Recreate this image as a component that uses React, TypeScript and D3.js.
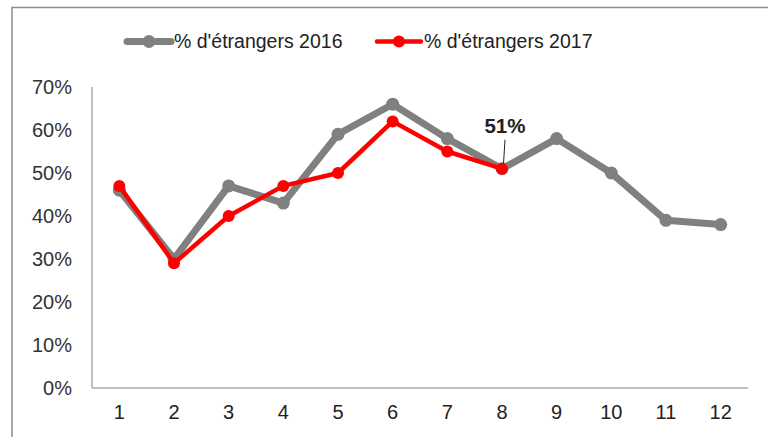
import React from 'react';
import * as d3 from 'd3';

const categories = ['1', '2', '3', '4', '5', '6', '7', '8', '9', '10', '11', '12'];
const values2016 = [46, 30, 47, 43, 59, 66, 58, 51, 58, 50, 39, 38];
const values2017 = [47, 29, 40, 47, 50, 62, 55, 51];
const yTicks = [0, 10, 20, 30, 40, 50, 60, 70];
const seriesNames = ["% d'étrangers 2016", "% d'étrangers 2017"];

const W = 768;
const H = 437;
const font = '"Liberation Sans", Arial, sans-serif';

const App = () => {
  const x = d3.scaleBand().domain(categories).range([92, 748]);
  const y = d3.scaleLinear().domain([0, 70]).range([388, 87]);
  const cx = (i: number) => (x(categories[i]) as number) + x.bandwidth() / 2;

  const line = d3.line<number>()
    .x((d, i) => cx(i))
    .y(d => y(d));

  const series = [
    { name: seriesNames[0], values: values2016, color: '#808080', width: 7, r: 6.5 },
    { name: seriesNames[1], values: values2017, color: '#ff0000', width: 4.5, r: 6 },
  ];

  const labelIdx = 7;
  const lx = cx(labelIdx);
  const ly = y(values2017[labelIdx]);

  return (
    <svg width={W} height={H} style={{ position: 'absolute', left: 0, top: 0 }}>
      <rect x={12} y={7.5} width={W} height={H} fill="#fff" stroke="#8c8c8c" strokeWidth={1.5} />

      {/* legend */}
      {series.map((s, k) => {
        const x0 = k === 0 ? 127 : 377;
        return (
          <g key={s.name}>
            <line x1={x0} x2={x0 + 44} y1={41.5} y2={41.5} stroke={s.color} strokeWidth={s.width} strokeLinecap="round" />
            <circle cx={x0 + 22} cy={41.5} r={s.r} fill={s.color} />
            <text x={x0 + 47} y={48} fontFamily={font} fontSize={19.5} fill="#222">{s.name}</text>
          </g>
        );
      })}

      {/* axes */}
      <line x1={92} x2={92} y1={87} y2={388} stroke="#aaa" strokeWidth={1.5} />
      <line x1={92} x2={748} y1={388} y2={388} stroke="#aaa" strokeWidth={1.5} />
      {yTicks.map(t => (
        <text key={t} x={72} y={y(t) + 7} textAnchor="end" fontFamily={font} fontSize={20} fill="#333">{t}%</text>
      ))}
      {categories.map((c, i) => (
        <text key={c} x={cx(i)} y={419} textAnchor="middle" fontFamily={font} fontSize={20} fill="#222">{c}</text>
      ))}

      {/* series */}
      {series.map(s => (
        <g key={s.name}>
          <path d={line(s.values) as string} fill="none" stroke={s.color} strokeWidth={s.width} strokeLinejoin="round" />
          {s.values.map((v, i) => (
            <circle key={i} cx={cx(i)} cy={y(v)} r={s.r} fill={s.color} />
          ))}
        </g>
      ))}

      {/* data label */}
      <line x1={lx + 3} x2={lx + 1.5} y1={ly - 29} y2={ly - 5} stroke="#222" strokeWidth={1} />
      <text x={lx + 3} y={ly - 36} textAnchor="middle" fontFamily={font} fontSize={20.5} fontWeight="bold" fill="#222">
        {values2017[labelIdx]}%
      </text>
    </svg>
  );
};

export default App;
